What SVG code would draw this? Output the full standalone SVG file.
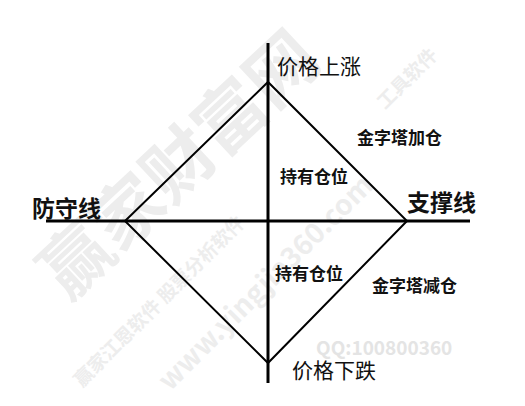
<svg xmlns="http://www.w3.org/2000/svg" width="525" height="406" viewBox="0 0 525 406">
<style>
.wm{fill:#ededed;font-family:"Noto Sans CJK SC","Liberation Sans",sans-serif;font-weight:bold}
.lbl{font-family:"Noto Sans CJK SC","Liberation Sans",sans-serif;fill:#111}
.b{font-weight:bold}
.axis{stroke:#000;stroke-width:3;fill:none}
.dia{stroke:#000;stroke-width:2;fill:none}
</style>
<rect width="525" height="406" fill="#fff"/>
<g id="watermark">
<text class="wm" font-size="70" transform="translate(68,302) rotate(-43)">赢家财富网</text>
<text class="wm" font-size="19" transform="translate(82,388) rotate(-45)">赢家江恩软件 股票分析软件</text>
<text class="wm" font-size="28" transform="translate(170,392) rotate(-45)">www.yingjia360.com</text>
<text class="wm" font-size="19" transform="translate(385,110) rotate(-45)">工具软件</text>
<text class="wm" font-size="19" x="316" y="355" style="fill:#e4e4e4">QQ:100800360</text>
</g>
<g id="connectors">
<line class="axis" x1="268" y1="43" x2="268" y2="383"/>
<line class="axis" x1="46" y1="221" x2="470" y2="221"/>
<polygon class="dia" points="125,221 268,82 407,221 268,363"/>
</g>
<g id="n-up"><text class="lbl" x="277" y="74" font-size="21">价格上涨</text></g>
<g id="n-down"><text class="lbl" x="292" y="378" font-size="21">价格下跌</text></g>
<g id="n-left"><text class="lbl b" x="32" y="217" font-size="23">防守线</text></g>
<g id="n-right"><text class="lbl b" x="407" y="211" font-size="23">支撑线</text></g>
<g id="n-add"><text class="lbl b" x="357" y="144" font-size="17">金字塔加仓</text></g>
<g id="n-hold1"><text class="lbl b" x="280" y="183" font-size="17">持有仓位</text></g>
<g id="n-hold2"><text class="lbl b" x="275" y="280" font-size="17">持有仓位</text></g>
<g id="n-reduce"><text class="lbl b" x="372" y="292" font-size="17">金字塔减仓</text></g>
</svg>
